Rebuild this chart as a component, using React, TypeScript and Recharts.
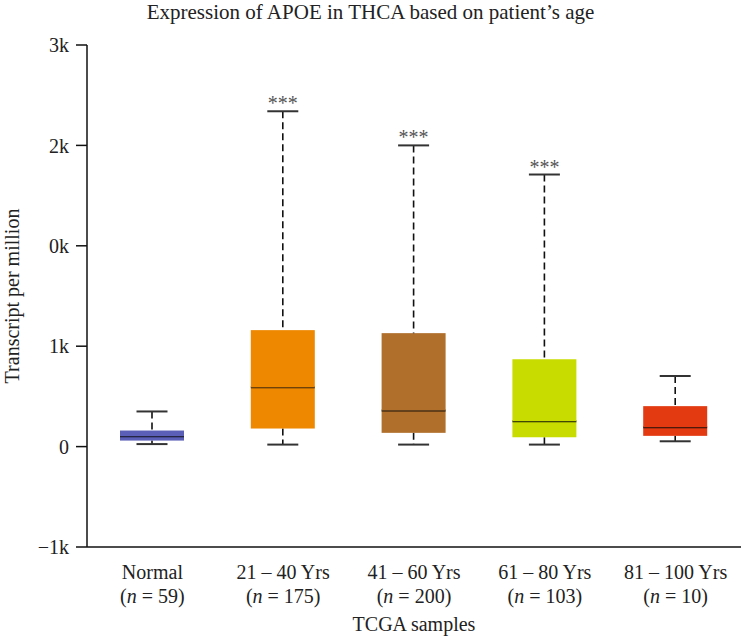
import React from "react";
import { ComposedChart, Bar, XAxis, YAxis } from "recharts";

// Age groups with sample sizes
const categories = ["Normal", "21 – 40 Yrs", "41 – 60 Yrs", "61 – 80 Yrs", "81 – 100 Yrs"];
const sampleSizes = [59, 175, 200, 103, 10];

// Box-plot statistics (transcripts per million, in axis units)
const whiskerLow = [25, 20, 20, 20, 53];
const q1 = [60, 180, 137, 93, 107];
const median = [103, 590, 360, 253, 193];
const q3 = [160, 1160, 1130, 870, 403];
const whiskerHigh = [350, 3340, 3000, 2710, 703];
const significance = ["", "***", "***", "***", ""];

const boxColors = ["#5b5fb8", "#ee8800", "#b06f2b", "#c8dc00", "#e33a12"];

// Y axis ticks and their printed labels
const yTickValues = [-1000, 0, 1000, 2000, 3000, 4000];
const yTickLabels = ["−1k", "0", "1k", "0k", "2k", "3k"];

const FONT = "'Liberation Serif', 'DejaVu Serif', serif";
const TEXT = "#222";

const rows = categories.map((name, i) => ({
  name,
  n: sampleSizes[i],
  base: whiskerLow[i],
  lowWhisker: q1[i] - whiskerLow[i],
  boxLow: median[i] - q1[i],
  boxHigh: q3[i] - median[i],
  highWhisker: whiskerHigh[i] - q3[i],
  color: boxColors[i],
  sig: significance[i],
}));

const CAP = 31;
const DASH = "7 4";

const LowerWhisker = (p: any) => {
  const cx = p.x + p.width / 2;
  const bottom = p.y + p.height;
  return (
    <g>
      <line x1={cx} x2={cx} y1={p.y} y2={bottom} stroke="#111" strokeWidth={1.6} strokeDasharray={DASH} />
      <line x1={cx - CAP / 2} x2={cx + CAP / 2} y1={bottom} y2={bottom} stroke="#333" strokeWidth={2} />
    </g>
  );
};

const BoxLower = (p: any) => (
  <g>
    <rect x={p.x} y={p.y} width={p.width} height={p.height} fill={p.payload.color} />
    <line x1={p.x} x2={p.x + p.width} y1={p.y} y2={p.y} stroke="#000" strokeOpacity={0.85} strokeWidth={2} />
  </g>
);

const BoxUpper = (p: any) => (
  <rect x={p.x} y={p.y} width={p.width} height={p.height} fill={p.payload.color} />
);

const UpperWhisker = (p: any) => {
  const cx = p.x + p.width / 2;
  return (
    <g>
      <line x1={cx} x2={cx} y1={p.y} y2={p.y + p.height} stroke="#111" strokeWidth={1.6} strokeDasharray={DASH} />
      <line x1={cx - CAP / 2} x2={cx + CAP / 2} y1={p.y} y2={p.y} stroke="#333" strokeWidth={2} />
      {p.payload.sig ? (
        <text x={cx} y={p.y - 1} textAnchor="middle" fontFamily={FONT} fontSize={20} fill="#555">
          {p.payload.sig}
        </text>
      ) : null}
    </g>
  );
};

const CategoryTick = (p: any) => {
  const i = categories.indexOf(p.payload.value);
  return (
    <g>
      <text x={p.x} y={p.y + 32} textAnchor="middle" fontFamily={FONT} fontSize={20} fill={TEXT}>
        {p.payload.value}
      </text>
      <text x={p.x} y={p.y + 56} textAnchor="middle" fontFamily={FONT} fontSize={20} fill={TEXT}>
        (<tspan fontStyle="italic">n</tspan> = {sampleSizes[i]})
      </text>
    </g>
  );
};

export default function App() {
  return (
    <div style={{ position: "absolute", left: 0, top: 0, width: 741, height: 640, background: "#fff" }}>
      <div
        style={{
          position: "absolute",
          left: 0,
          top: 0,
          width: 741,
          textAlign: "center",
          fontFamily: FONT,
          fontSize: 21,
          color: TEXT,
          lineHeight: "24px",
        }}
      >
        Expression of APOE in THCA based on patient’s age
      </div>
      <ComposedChart
        width={741}
        height={640}
        data={rows}
        margin={{ top: 45, right: 0, bottom: 0, left: 0 }}
        barSize={64}
      >
        <XAxis
          dataKey="name"
          type="category"
          height={93}
          tickLine={false}
          tickSize={0}
          tickMargin={0}
          axisLine={{ stroke: "#111", strokeWidth: 1.5 }}
          tick={<CategoryTick />}
          interval={0}
          label={{
            value: "TCGA samples",
            position: "insideBottom",
            offset: 9,
            style: { fontFamily: FONT, fontSize: 20, fill: TEXT },
          }}
        />
        <YAxis
          type="number"
          width={87}
          domain={[-1000, 4000]}
          ticks={yTickValues}
          interval={0}
          allowDataOverflow
          tickSize={11}
          tickMargin={7}
          tickLine={{ stroke: "#111", strokeWidth: 1.5 }}
          axisLine={{ stroke: "#111", strokeWidth: 1.5 }}
          tick={{ fontFamily: FONT, fontSize: 20, fill: TEXT }}
          tickFormatter={(v: number) => yTickLabels[yTickValues.indexOf(v)]}
          label={{
            value: "Transcript per million",
            angle: -90,
            position: "insideLeft",
            offset: 12,
            style: { fontFamily: FONT, fontSize: 20, fill: TEXT, textAnchor: "middle" },
          }}
        />
        <Bar dataKey="base" stackId="box" fill="none" isAnimationActive={false} />
        <Bar dataKey="lowWhisker" stackId="box" shape={LowerWhisker} isAnimationActive={false} />
        <Bar dataKey="boxLow" stackId="box" shape={BoxLower} isAnimationActive={false} />
        <Bar dataKey="boxHigh" stackId="box" shape={BoxUpper} isAnimationActive={false} />
        <Bar dataKey="highWhisker" stackId="box" shape={UpperWhisker} isAnimationActive={false} />
      </ComposedChart>
    </div>
  );
}
